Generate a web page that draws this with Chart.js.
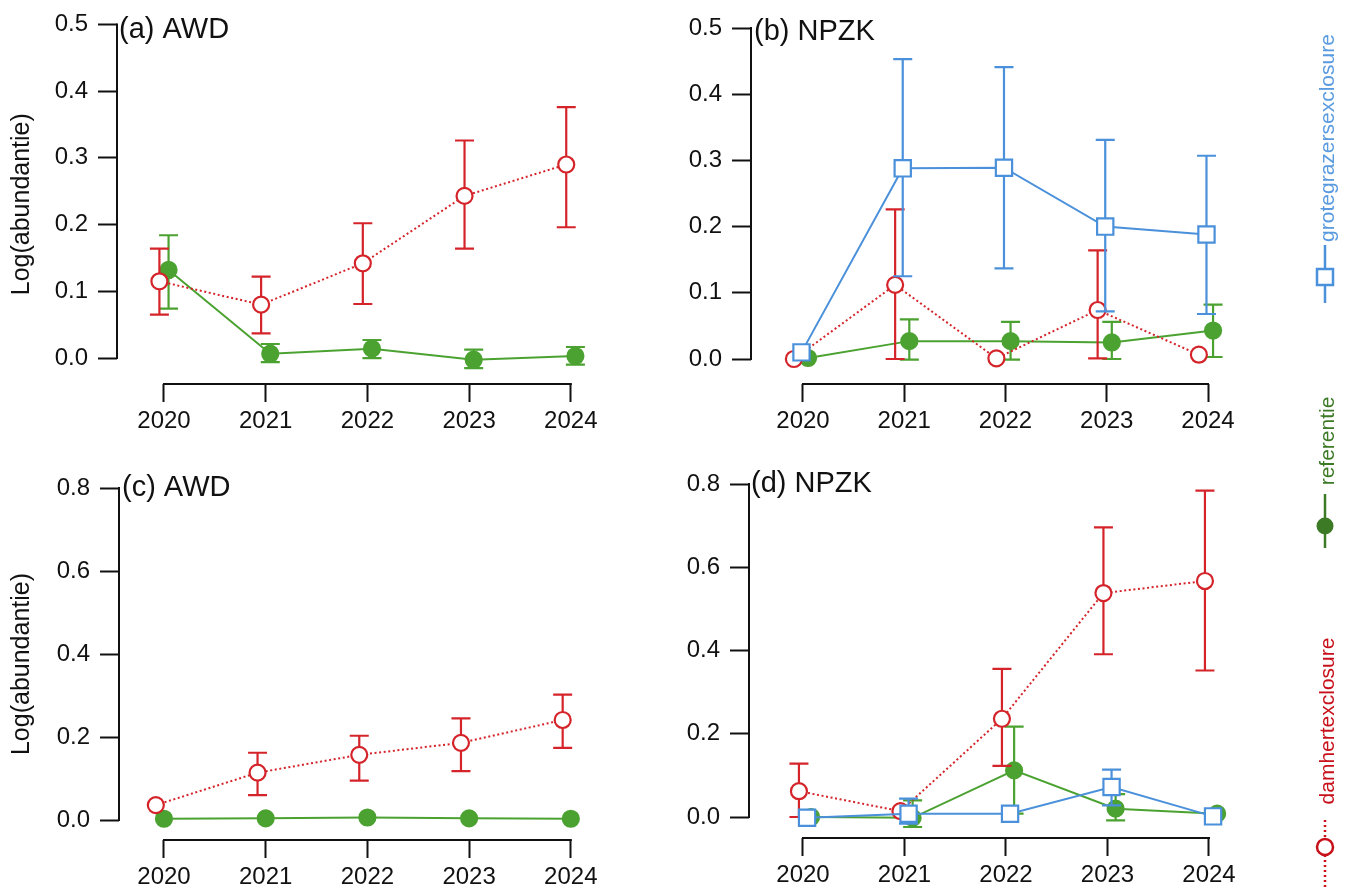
<!DOCTYPE html>
<html><head><meta charset="utf-8">
<script src="https://cdn.jsdelivr.net/npm/chart.js@4.4.1/dist/chart.umd.min.js"></script>
<style>
html,body{margin:0;padding:0;background:#fff;}
#wrap{position:relative;width:1346px;height:889px;overflow:hidden;font-family:"Liberation Sans",Arial,sans-serif;background:#fff;}
canvas{position:absolute;}
.lg{position:absolute;white-space:nowrap;font-size:21px;line-height:1;transform:translate(-50%,-50%) rotate(-90deg);}
svg{position:absolute;left:0;top:0;}
</style></head><body>
<div id="wrap">
  <canvas id="ca" width="620" height="440" style="left:0;top:0"></canvas>
  <canvas id="cb" width="670" height="440" style="left:620px;top:0"></canvas>
  <canvas id="cc" width="620" height="449" style="left:0;top:440px"></canvas>
  <canvas id="cd" width="670" height="449" style="left:620px;top:440px"></canvas>
  <svg width="1346" height="889">
    <line x1="1325" y1="245" x2="1325" y2="303" stroke="#4a90da" stroke-width="2.5"/>
    <rect x="1317" y="269" width="16" height="16" fill="#fff" stroke="#4a90da" stroke-width="2.5"/>
    <line x1="1325" y1="494" x2="1325" y2="548" stroke="#3c7a26" stroke-width="2.5"/>
    <circle cx="1325" cy="526" r="8.5" fill="#3c7a26"/>
    <line x1="1325" y1="820" x2="1325" y2="887" stroke="#c8101a" stroke-width="2.5" stroke-dasharray="2,3"/>
    <circle cx="1325" cy="847" r="8" fill="#fff" stroke="#c8101a" stroke-width="2.5"/>
  </svg>
  <div class="lg" style="left:1326px;top:138px;color:#5a9be0">grotegrazersexclosure</div>
  <div class="lg" style="left:1326px;top:441px;color:#3c7a26">referentie</div>
  <div class="lg" style="left:1326px;top:721px;color:#c8101a">damhertexclosure</div>
</div>
<script>
// ---------- data ----------
const years = [2020, 2021, 2022, 2023, 2024];
const yearLabels = ['2020', '2021', '2022', '2023', '2024'];
const yTicksTop = [0, 0.1, 0.2, 0.3, 0.4, 0.5];
const yTickLabelsTop = ['0.0', '0.1', '0.2', '0.3', '0.4', '0.5'];
const yTicksBottom = [0, 0.2, 0.4, 0.6, 0.8];
const yTickLabelsBottom = ['0.0', '0.2', '0.4', '0.6', '0.8'];
const yTitle = 'Log(abundantie)';
const panelLabels = ['(a) AWD', '(b) NPZK', '(c) AWD', '(d) NPZK'];

// (a) AWD
const aDam = [0.115, 0.080, 0.142, 0.243, 0.290];
const aDamLo = [0.065, 0.037, 0.081, 0.164, 0.196];
const aDamHi = [0.164, 0.122, 0.202, 0.326, 0.376];
const aRef = [0.132, 0.0065, 0.014, -0.0025, 0.003];
const aRefLo = [0.074, -0.006, 0.0, -0.015, -0.010];
const aRefHi = [0.184, 0.021, 0.027, 0.0125, 0.0165];

// (b) NPZK
const bGg = [0.010, 0.288, 0.289, 0.200, 0.188];
const bGgLo = [null, 0.125, 0.137, 0.072, 0.068];
const bGgHi = [null, 0.453, 0.441, 0.331, 0.307];
const bDam = [0.0, 0.112, 0.001, 0.074, 0.0065];
const bDamLo = [null, 0.0, null, 0.001, null];
const bDamHi = [null, 0.226, null, 0.164, null];
const bRef = [0.0015, 0.027, 0.027, 0.025, 0.043];
const bRefLo = [null, -0.001, -0.001, 0.0, 0.003];
const bRefHi = [null, 0.060, 0.056, 0.056, 0.082];

// (c) AWD
const cDam = [0.036, 0.114, 0.157, 0.186, 0.241];
const cDamLo = [null, 0.060, 0.095, 0.118, 0.174];
const cDamHi = [null, 0.162, 0.203, 0.245, 0.302];
const cRef = [0.003, 0.004, 0.006, 0.004, 0.003];
const cRefLo = [null, null, null, null, null];
const cRefHi = [null, null, null, null, null];

// (d) NPZK
const dDam = [0.062, 0.014, 0.236, 0.538, 0.567];
const dDamLo = [0.0, null, 0.123, 0.391, 0.352];
const dDamHi = [0.128, null, 0.356, 0.696, 0.784];
const dRef = [0.0, -0.002, 0.112, 0.020, 0.008];
const dRefLo = [null, -0.024, 0.008, -0.008, null];
const dRefHi = [null, 0.040, 0.217, 0.055, null];
const dGg = [-0.002, 0.008, 0.008, 0.072, 0.0015];
const dGgLo = [null, -0.016, null, 0.028, null];
const dGgHi = [null, 0.044, null, 0.114, null];

// ---------- styles ----------
const FONT = '"Liberation Sans", Arial, sans-serif';
const INK = '#111111';
const STY = {
  dam: {label: 'damhertexclosure', color: '#d4242a', dash: [2, 2.6], pointStyle: 'circle', radius: 8, fill: '#ffffff', order: 1},
  ref: {label: 'referentie', color: '#4ba231', dash: [], pointStyle: 'circle', radius: 8, fill: '#4ba231', order: 2},
  gg:  {label: 'grotegrazersexclosure', color: '#4a90da', dash: [], pointStyle: 'rect', radius: 11.5, fill: '#ffffff', order: 0}
};

function makeDs(kind, vals, lo, hi, dodge) {
  const s = STY[kind];
  return {
    label: s.label,
    data: years.map((yr, i) => ({x: yr + dodge, y: vals[i]})),
    errLo: lo, errHi: hi,
    borderColor: s.color, borderWidth: 2, borderDash: s.dash, borderCapStyle: 'butt',
    pointStyle: s.pointStyle, pointRadius: s.radius, pointHoverRadius: s.radius,
    pointBackgroundColor: s.fill, pointBorderColor: s.color, pointBorderWidth: 2.2,
    tension: 0, clip: false, order: s.order, fill: false
  };
}

// ---------- plugins ----------
const errPlugin = {
  id: 'errbars',
  beforeDatasetDraw(chart, args) {
    const ds = chart.data.datasets[args.index];
    if (!ds.errLo) return;
    const ctx = chart.ctx, ys = chart.scales.y, cap = 9.5;
    ctx.save();
    ctx.strokeStyle = ds.borderColor; ctx.lineWidth = 2.2; ctx.setLineDash([]);
    args.meta.data.forEach((pt, i) => {
      const lo = ds.errLo[i], hi = ds.errHi[i];
      if (lo == null || hi == null) return;
      const x = pt.x, yl = ys.getPixelForValue(lo), yh = ys.getPixelForValue(hi);
      ctx.beginPath();
      ctx.moveTo(x, yl); ctx.lineTo(x, yh);
      ctx.moveTo(x - cap, yl); ctx.lineTo(x + cap, yl);
      ctx.moveTo(x - cap, yh); ctx.lineTo(x + cap, yh);
      ctx.stroke();
    });
    ctx.restore();
  }
};
const axisPlugin = {
  id: 'raxes',
  beforeDatasetsDraw(chart) {
    const {ctx, chartArea, scales: {x, y}} = chart;
    ctx.save();
    ctx.strokeStyle = INK; ctx.lineWidth = 2; ctx.lineCap = 'square';
    const yt = y.ticks, xt = x.ticks;
    ctx.beginPath();
    ctx.moveTo(chartArea.left, y.getPixelForValue(yt[0].value));
    ctx.lineTo(chartArea.left, y.getPixelForValue(yt[yt.length - 1].value));
    ctx.moveTo(x.getPixelForValue(xt[0].value), chartArea.bottom);
    ctx.lineTo(x.getPixelForValue(xt[xt.length - 1].value), chartArea.bottom);
    ctx.stroke();
    const o = chart.options.plugins.raxes;
    ctx.fillStyle = INK; ctx.font = '29px ' + FONT; ctx.textBaseline = 'middle'; ctx.textAlign = 'left';
    ctx.fillText(o.label, chartArea.left + o.dx, y.getPixelForValue(yt[yt.length - 1].value) + o.dy);
    ctx.restore();
  }
};

// ---------- panels (layout in page pixels) ----------
const panels = [
  {id: 'ca', box: [0, 0, 620, 440], yAxisX: 117, xAxisY: 384, y0: 358, yTop: 24, x0: 164, x4: 571, right: 610,
   ticks: yTicksTop, tickLabels: yTickLabelsTop, title: true, label: panelLabels[0], dx: 2, dy: 6,
   ds: [makeDs('dam', aDam, aDamLo, aDamHi, -0.045), makeDs('ref', aRef, aRefLo, aRefHi, 0.045)]},
  {id: 'cb', box: [620, 0, 670, 440], yAxisX: 751, xAxisY: 384, y0: 359, yTop: 28, x0: 803, x4: 1208, right: 1262,
   ticks: yTicksTop, tickLabels: yTickLabelsTop, title: false, label: panelLabels[1], dx: 3, dy: 4,
   ds: [makeDs('dam', bDam, bDamLo, bDamHi, -0.09), makeDs('ref', bRef, bRefLo, bRefHi, 0.05), makeDs('gg', bGg, bGgLo, bGgHi, -0.015)]},
  {id: 'cc', box: [0, 440, 620, 449], yAxisX: 119, xAxisY: 840, y0: 820, yTop: 488, x0: 164, x4: 571, right: 610,
   ticks: yTicksBottom, tickLabels: yTickLabelsBottom, title: true, label: panelLabels[2], dx: 3, dy: 0,
   ds: [makeDs('dam', cDam, cDamLo, cDamHi, -0.08), makeDs('ref', cRef, cRefLo, cRefHi, 0.0)]},
  {id: 'cd', box: [620, 440, 670, 449], yAxisX: 749, xAxisY: 838, y0: 817, yTop: 484, x0: 803, x4: 1209, right: 1262,
   ticks: yTicksBottom, tickLabels: yTickLabelsBottom, title: false, label: panelLabels[3], dx: 2, dy: 0,
   ds: [makeDs('dam', dDam, dDamLo, dDamHi, -0.04), makeDs('ref', dRef, dRefLo, dRefHi, 0.08), makeDs('gg', dGg, dGgLo, dGgHi, 0.04)]}
];

panels.forEach(p => {
  const [bl, bt, bw, bh] = p.box;
  const yMax = p.ticks[p.ticks.length - 1];
  const pxPerUnit = (p.y0 - p.yTop) / yMax;
  const yMin = -(p.xAxisY - p.y0) / pxPerUnit;
  const pxPerYr = (p.x4 - p.x0) / (years[years.length - 1] - years[0]);
  const xMin = years[0] - (p.x0 - p.yAxisX) / pxPerYr;
  const xMax = years[years.length - 1] + (p.right - p.x4) / pxPerYr;
  new Chart(document.getElementById(p.id), {
    type: 'line',
    data: {datasets: p.ds},
    plugins: [axisPlugin, errPlugin],
    options: {
      responsive: false, animation: false, devicePixelRatio: 1,
      layout: {padding: {left: 0, top: p.yTop - bt, right: bl + bw - p.right, bottom: 0}},
      plugins: {legend: {display: false}, tooltip: {enabled: false}, raxes: {label: p.label, dx: p.dx, dy: p.dy}},
      scales: {
        x: {
          type: 'linear', min: xMin, max: xMax,
          border: {display: false},
          grid: {display: true, drawOnChartArea: false, drawTicks: true, tickLength: 18, tickWidth: 2, tickColor: INK},
          afterBuildTicks: s => { s.ticks = years.map(v => ({value: v})); },
          afterFit: s => { s.height = bt + bh - p.xAxisY; },
          ticks: {callback: (v, i) => yearLabels[i], font: {size: 24, family: FONT}, color: INK, padding: 5, maxRotation: 0, autoSkip: false}
        },
        y: {
          type: 'linear', min: yMin, max: yMax,
          border: {display: false},
          grid: {display: true, drawOnChartArea: false, drawTicks: true, tickLength: 19, tickWidth: 2, tickColor: INK},
          afterBuildTicks: s => { s.ticks = p.ticks.map(v => ({value: v})); },
          afterFit: s => { s.width = p.yAxisX - bl; },
          ticks: {callback: (v, i) => p.tickLabels[i], font: {size: 24, family: FONT}, color: INK, padding: 10, autoSkip: false},
          title: {display: p.title, text: yTitle, font: {size: 25, family: FONT}, color: INK, padding: {top: 7, bottom: 0}}
        }
      }
    }
  });
});
</script>
</body></html>
